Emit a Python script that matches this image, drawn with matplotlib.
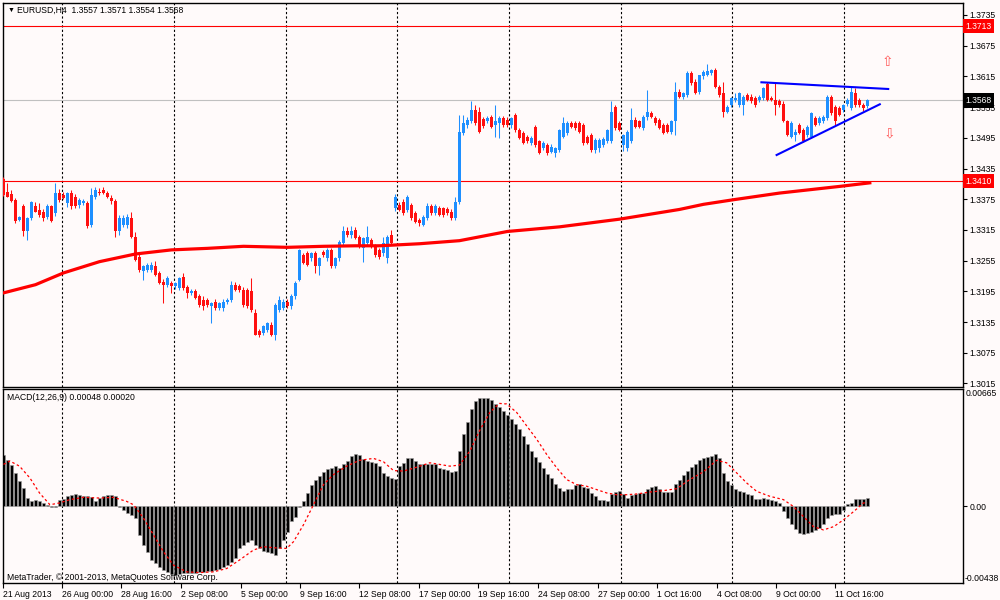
import matplotlib
matplotlib.use('Agg')
import matplotlib.pyplot as plt
import numpy as np

plt.rcParams['font.family'] = ['Liberation Sans', 'DejaVu Sans']

# ---- EURUSD H4 candles (bar index 0 = 21 Aug 2013) ----
opens = [
    1.3414, 1.3390, 1.3385, 1.3374, 1.3335, 1.3361, 1.3312, 1.3338, 1.3361, 1.3354,
    1.3351, 1.3341, 1.3361, 1.3348, 1.3387, 1.3384, 1.3367, 1.3387, 1.3380, 1.3364,
    1.3367, 1.3367, 1.3325, 1.3380, 1.3390, 1.3393, 1.3387, 1.3377, 1.3371, 1.3312,
    1.3325, 1.3325, 1.3338, 1.3302, 1.3263, 1.3234, 1.3237, 1.3236, 1.3244, 1.3230,
    1.3214, 1.3208, 1.3211, 1.3205, 1.3201, 1.3224, 1.3204, 1.3192, 1.3195, 1.3185,
    1.3178, 1.3178, 1.3166, 1.3175, 1.3162, 1.3162, 1.3175, 1.3178, 1.3208, 1.3205,
    1.3198, 1.3198, 1.3195, 1.3153, 1.3117, 1.3114, 1.3120, 1.3130, 1.3110, 1.3159,
    1.3162, 1.3175, 1.3166, 1.3185, 1.3218, 1.3266, 1.3270, 1.3260, 1.3270, 1.3244,
    1.3271, 1.3260, 1.3276, 1.3244, 1.3260, 1.3289, 1.3312, 1.3305, 1.3315, 1.3302,
    1.3279, 1.3289, 1.3296, 1.3283, 1.3276, 1.3269, 1.3260, 1.3305, 1.3357, 1.3364,
    1.3370, 1.3354, 1.3364, 1.3348, 1.3334, 1.3325, 1.3338, 1.3361, 1.3348, 1.3357,
    1.3357, 1.3356, 1.3351, 1.3338, 1.3370, 1.3504, 1.3520, 1.3527, 1.3549, 1.3546,
    1.3531, 1.3527, 1.3536, 1.3520, 1.3523, 1.3533, 1.3530, 1.3520, 1.3540, 1.3510,
    1.3504, 1.3497, 1.3484, 1.3517, 1.3488, 1.3475, 1.3481, 1.3468, 1.3465, 1.3471,
    1.3497, 1.3504, 1.3523, 1.3523, 1.3523, 1.3520, 1.3497, 1.3501, 1.3471, 1.3475,
    1.3481, 1.3488, 1.3488, 1.3556, 1.3523, 1.3481, 1.3475, 1.3488, 1.3530, 1.3527,
    1.3514, 1.3536, 1.3543, 1.3533, 1.3530, 1.3520, 1.3520, 1.3507, 1.3527, 1.3585,
    1.3575, 1.3579, 1.3621, 1.3605, 1.3585, 1.3615, 1.3618, 1.3622, 1.3627, 1.3595,
    1.3582, 1.3546, 1.3559, 1.3569, 1.3559, 1.3559, 1.3578, 1.3575, 1.3572, 1.3569,
    1.3572, 1.3601, 1.3572, 1.3569, 1.3566, 1.3562, 1.3527, 1.3497, 1.3501, 1.3520,
    1.3510, 1.3501, 1.3497, 1.3533, 1.3523, 1.3527, 1.3533, 1.3575, 1.3556, 1.3553,
    1.3549, 1.3562, 1.3553, 1.3582, 1.3569, 1.3559, 1.3557]
highs = [
    1.3419, 1.3406, 1.3393, 1.3377, 1.3343, 1.3365, 1.3340, 1.3372, 1.3370, 1.3367,
    1.3356, 1.3365, 1.3364, 1.3406, 1.3394, 1.3390, 1.3390, 1.3393, 1.3385, 1.3378,
    1.3376, 1.3372, 1.3397, 1.3398, 1.3396, 1.3398, 1.3392, 1.3383, 1.3376, 1.3345,
    1.3345, 1.3347, 1.3350, 1.3310, 1.3268, 1.3247, 1.3250, 1.3252, 1.3255, 1.3235,
    1.3219, 1.3225, 1.3216, 1.3214, 1.3224, 1.3230, 1.3208, 1.3200, 1.3200, 1.3190,
    1.3185, 1.3182, 1.3175, 1.3180, 1.3174, 1.3180, 1.3182, 1.3215, 1.3213, 1.3210,
    1.3204, 1.3202, 1.3221, 1.3160, 1.3122, 1.3130, 1.3136, 1.3136, 1.3172, 1.3185,
    1.3180, 1.3180, 1.3190, 1.3215, 1.3278, 1.3270, 1.3273, 1.3272, 1.3274, 1.3262,
    1.3276, 1.3280, 1.3280, 1.3262, 1.3296, 1.3323, 1.3320, 1.3322, 1.3320, 1.3306,
    1.3302, 1.3322, 1.3300, 1.3287, 1.3280, 1.3302, 1.3306, 1.3315, 1.3385, 1.3370,
    1.3375, 1.3384, 1.3368, 1.3352, 1.3338, 1.3345, 1.3367, 1.3365, 1.3365, 1.3362,
    1.3360, 1.3360, 1.3355, 1.3380, 1.3540, 1.3540, 1.3535, 1.3566, 1.3559, 1.3556,
    1.3536, 1.3538, 1.3540, 1.3560, 1.3538, 1.3538, 1.3535, 1.3536, 1.3543, 1.3515,
    1.3508, 1.3500, 1.3498, 1.3520, 1.3491, 1.3488, 1.3484, 1.3482, 1.3478, 1.3512,
    1.3536, 1.3527, 1.3527, 1.3527, 1.3527, 1.3524, 1.3500, 1.3505, 1.3495, 1.3494,
    1.3496, 1.3512, 1.3566, 1.3560, 1.3527, 1.3503, 1.3510, 1.3553, 1.3535, 1.3530,
    1.3540, 1.3588, 1.3548, 1.3537, 1.3534, 1.3524, 1.3524, 1.3530, 1.3605, 1.3590,
    1.3585, 1.3625, 1.3625, 1.3610, 1.3618, 1.3628, 1.3640, 1.3630, 1.3631, 1.3598,
    1.3605, 1.3560, 1.3575, 1.3582, 1.3585, 1.3578, 1.3582, 1.3580, 1.3576, 1.3578,
    1.3594, 1.3605, 1.3577, 1.3602, 1.3570, 1.3566, 1.3530, 1.3527, 1.3512, 1.3524,
    1.3514, 1.3520, 1.3546, 1.3537, 1.3537, 1.3540, 1.3579, 1.3579, 1.3560, 1.3557,
    1.3562, 1.3572, 1.3595, 1.3592, 1.3573, 1.3563, 1.3571]
lows = [
    1.3382, 1.3379, 1.3369, 1.3328, 1.3332, 1.3304, 1.3296, 1.3335, 1.3350, 1.3340,
    1.3332, 1.3336, 1.3330, 1.3343, 1.3370, 1.3376, 1.3360, 1.3355, 1.3358, 1.3358,
    1.3363, 1.3319, 1.3320, 1.3376, 1.3384, 1.3385, 1.3378, 1.3366, 1.3302, 1.3306,
    1.3320, 1.3318, 1.3300, 1.3254, 1.3233, 1.3218, 1.3232, 1.3232, 1.3225, 1.3209,
    1.3172, 1.3204, 1.3192, 1.3200, 1.3198, 1.3197, 1.3182, 1.3188, 1.3180, 1.3165,
    1.3159, 1.3164, 1.3134, 1.3158, 1.3158, 1.3156, 1.3170, 1.3175, 1.3195, 1.3193,
    1.3165, 1.3162, 1.3155, 1.3110, 1.3105, 1.3110, 1.3115, 1.3108, 1.3100, 1.3155,
    1.3158, 1.3162, 1.3160, 1.3180, 1.3215, 1.3248, 1.3245, 1.3255, 1.3230, 1.3227,
    1.3262, 1.3255, 1.3240, 1.3240, 1.3255, 1.3285, 1.3302, 1.3300, 1.3297, 1.3280,
    1.3253, 1.3285, 1.3280, 1.3262, 1.3258, 1.3265, 1.3250, 1.3286, 1.3352, 1.3352,
    1.3345, 1.3350, 1.3335, 1.3328, 1.3323, 1.3322, 1.3335, 1.3345, 1.3344, 1.3342,
    1.3340, 1.3345, 1.3335, 1.3335, 1.3365, 1.3500, 1.3515, 1.3523, 1.3520, 1.3505,
    1.3515, 1.3524, 1.3514, 1.3497, 1.3494, 1.3517, 1.3517, 1.3515, 1.3507, 1.3492,
    1.3482, 1.3485, 1.3480, 1.3478, 1.3463, 1.3472, 1.3462, 1.3465, 1.3458, 1.3468,
    1.3494, 1.3500, 1.3514, 1.3510, 1.3505, 1.3480, 1.3482, 1.3468, 1.3466, 1.3468,
    1.3478, 1.3485, 1.3485, 1.3510, 1.3508, 1.3470, 1.3470, 1.3485, 1.3515, 1.3515,
    1.3510, 1.3530, 1.3533, 1.3520, 1.3512, 1.3502, 1.3505, 1.3503, 1.3501, 1.3573,
    1.3570, 1.3575, 1.3598, 1.3580, 1.3580, 1.3610, 1.3615, 1.3617, 1.3592, 1.3575,
    1.3536, 1.3543, 1.3555, 1.3565, 1.3555, 1.3540, 1.3566, 1.3563, 1.3556, 1.3565,
    1.3568, 1.3566, 1.3566, 1.3540, 1.3555, 1.3525, 1.3498, 1.3494, 1.3488, 1.3502,
    1.3486, 1.3497, 1.3494, 1.3518, 1.3520, 1.3524, 1.3530, 1.3540, 1.3520, 1.3538,
    1.3545, 1.3557, 1.3549, 1.3556, 1.3555, 1.3548, 1.3554]
closes = [
    1.3384, 1.3380, 1.3371, 1.3332, 1.3341, 1.3312, 1.3338, 1.3370, 1.3351, 1.3345,
    1.3338, 1.3361, 1.3332, 1.3387, 1.3374, 1.3377, 1.3387, 1.3361, 1.3361, 1.3374,
    1.3371, 1.3322, 1.3384, 1.3393, 1.3387, 1.3387, 1.3380, 1.3371, 1.3312, 1.3338,
    1.3338, 1.3341, 1.3302, 1.3257, 1.3237, 1.3244, 1.3247, 1.3247, 1.3227, 1.3211,
    1.3208, 1.3221, 1.3205, 1.3211, 1.3221, 1.3201, 1.3192, 1.3195, 1.3182, 1.3169,
    1.3166, 1.3169, 1.3172, 1.3162, 1.3172, 1.3175, 1.3178, 1.3208, 1.3198, 1.3198,
    1.3169, 1.3166, 1.3159, 1.3110, 1.3110, 1.3127, 1.3133, 1.3110, 1.3169, 1.3179,
    1.3175, 1.3166, 1.3185, 1.3211, 1.3276, 1.3250, 1.3247, 1.3270, 1.3244, 1.3260,
    1.3266, 1.3276, 1.3244, 1.3260, 1.3292, 1.3312, 1.3305, 1.3312, 1.3299, 1.3283,
    1.3299, 1.3302, 1.3283, 1.3266, 1.3263, 1.3289, 1.3302, 1.3289, 1.3380, 1.3354,
    1.3348, 1.3380, 1.3338, 1.3331, 1.3328, 1.3341, 1.3361, 1.3348, 1.3361, 1.3344,
    1.3344, 1.3348, 1.3338, 1.3370, 1.3507, 1.3523, 1.3530, 1.3549, 1.3523, 1.3507,
    1.3518, 1.3533, 1.3517, 1.3527, 1.3533, 1.3520, 1.3520, 1.3533, 1.3510, 1.3494,
    1.3484, 1.3488, 1.3494, 1.3481, 1.3465, 1.3484, 1.3465, 1.3478, 1.3475, 1.3510,
    1.3523, 1.3523, 1.3517, 1.3514, 1.3507, 1.3484, 1.3484, 1.3471, 1.3491, 1.3491,
    1.3492, 1.3510, 1.3546, 1.3514, 1.3510, 1.3501, 1.3507, 1.3530, 1.3517, 1.3517,
    1.3536, 1.3546, 1.3536, 1.3523, 1.3514, 1.3504, 1.3507, 1.3527, 1.3585, 1.3575,
    1.3582, 1.3621, 1.3602, 1.3582, 1.3618, 1.3624, 1.3626, 1.3627, 1.3595, 1.3579,
    1.3546, 1.3556, 1.3572, 1.3572, 1.3582, 1.3575, 1.3569, 1.3566, 1.3559, 1.3575,
    1.3592, 1.3569, 1.3569, 1.3559, 1.3559, 1.3527, 1.3501, 1.3523, 1.3507, 1.3504,
    1.3488, 1.3517, 1.3543, 1.3520, 1.3533, 1.3536, 1.3575, 1.3543, 1.3527, 1.3540,
    1.3559, 1.3569, 1.3585, 1.3559, 1.3559, 1.3553, 1.3568]

# 200-period moving average, read at a few bars
ma_bars = [0, 8, 15, 24, 33, 42, 51, 60, 71, 80, 88, 94, 104, 114, 126, 139,
           154, 169, 175, 182.5, 194, 209, 216.6]
ma_vals = [1.3192, 1.3208, 1.3231, 1.3253, 1.3268, 1.3276, 1.3279, 1.3283, 1.3281,
           1.3283, 1.3284, 1.3284, 1.3288, 1.3294, 1.3312, 1.3321, 1.3336, 1.3355,
           1.3365, 1.3374, 1.3387, 1.3400, 1.3407]

# MACD(12,26,9) main (histogram), one per bar
macd_hist = [
    0.00288, 0.00260, 0.00231, 0.00189, 0.00141, 0.00103, 0.00046, 0.00027, 0.00033, 0.00027,
    0.00018, 0.00004, -0.00002, -0.00002, 0.00037, 0.00042, 0.00056, 0.00065, 0.00069, 0.00061,
    0.00056, 0.00056, 0.00050, 0.00027, 0.00046, 0.00056, 0.00061, 0.00065, 0.00056, -0.00002,
    -0.00021, -0.00040, -0.00049, -0.00068, -0.00163, -0.00221, -0.00259, -0.00306, -0.00325, -0.00344,
    -0.00364, -0.00373, -0.00383, -0.00388, -0.00383, -0.00379, -0.00377, -0.00377, -0.00377, -0.00373,
    -0.00373, -0.00369, -0.00369, -0.00364, -0.00358, -0.00344, -0.00335, -0.00316, -0.00297, -0.00240,
    -0.00221, -0.00202, -0.00192, -0.00221, -0.00240, -0.00253, -0.00263, -0.00268, -0.00278, -0.00240,
    -0.00192, -0.00144, -0.00087, -0.00059, -0.00002, 0.00027, 0.00075, 0.00122, 0.00151, 0.00170,
    0.00195, 0.00208, 0.00218, 0.00227, 0.00218, 0.00237, 0.00256, 0.00284, 0.00294, 0.00290,
    0.00265, 0.00256, 0.00252, 0.00246, 0.00227, 0.00189, 0.00170, 0.00160, 0.00155, 0.00227,
    0.00246, 0.00271, 0.00271, 0.00256, 0.00240, 0.00237, 0.00237, 0.00240, 0.00240,
    0.00218, 0.00212, 0.00204, 0.00193, 0.00199, 0.00313, 0.00408, 0.00479, 0.00551, 0.00599,
    0.00612, 0.00612, 0.00612, 0.00602, 0.00580, 0.00561, 0.00538, 0.00519, 0.00494, 0.00469,
    0.00437, 0.00399, 0.00351, 0.00313, 0.00278, 0.00252, 0.00214, 0.00183, 0.00157, 0.00126,
    0.00103, 0.00088, 0.00099, 0.00099, 0.00119, 0.00126, 0.00107, 0.00103, 0.00075, 0.00056,
    0.00033, 0.00033, 0.00027, 0.00069, 0.00080, 0.00084, 0.00069, 0.00046, 0.00065, 0.00069,
    0.00075, 0.00075, 0.00099, 0.00107, 0.00113, 0.00099, 0.00080, 0.00080, 0.00080, 0.00126,
    0.00151, 0.00176, 0.00199, 0.00223, 0.00242, 0.00260, 0.00271, 0.00280, 0.00284, 0.00298,
    0.00271, 0.00189, 0.00145, 0.00122, 0.00099, 0.00088, 0.00080, 0.00069, 0.00061, 0.00040,
    0.00040, 0.00046, 0.00042, 0.00037, 0.00031, 0.00018, -0.00026, -0.00068, -0.00103, -0.00129,
    -0.00152, -0.00156, -0.00150, -0.00144, -0.00137, -0.00122, -0.00103, -0.00068, -0.00053, -0.00045,
    -0.00042, -0.00021, 0.00012, 0.00016, 0.00038, 0.00042, 0.00042, 0.00048]

# MACD signal line, read at a few bars
sig_bars = [0, 1.6, 4, 6.6, 9, 11.6, 14, 16.6, 20, 24, 27.5, 30.8, 32.5, 35, 37.5, 40,
            42.5, 45.8, 49, 52.5, 55.8, 59, 62.5, 65, 67.5, 70.8, 72.5, 75, 77.5, 80,
            82.5, 85.8, 89, 92.5, 95, 97.5, 100, 103.3, 106.6, 109, 111.6, 114, 116.6,
            119, 121.6, 124, 125.8, 128.3, 130.8, 133.3, 135.8, 138.3, 140.8, 143.3,
            145.8, 148.3, 150.8, 153.3, 155.8, 158.3, 161.6, 165, 168.3, 171.6, 175,
            178.3, 180.8, 183.3, 185.8, 188.3, 191.6, 195, 197.5, 200, 202.5, 205,
            207.6, 210, 212.6, 215, 216]
sig_vals = [0.00237, 0.00256, 0.00227, 0.00160, 0.00075, 0.00008, 0.00018, 0.00037,
            0.00050, 0.00046, 0.00050, 0.00027, 0.00008, -0.00068, -0.00163, -0.00259,
            -0.00335, -0.00373, -0.00377, -0.00373, -0.00354, -0.00306, -0.00249,
            -0.00230, -0.00236, -0.00240, -0.00202, -0.00106, 0.00008, 0.00122, 0.00179,
            0.00227, 0.00260, 0.00271, 0.00252, 0.00202, 0.00199, 0.00221, 0.00246,
            0.00237, 0.00227, 0.00233, 0.00313, 0.00427, 0.00532, 0.00583, 0.00580,
            0.00532, 0.00456, 0.00380, 0.00294, 0.00218, 0.00151, 0.00122, 0.00113,
            0.00094, 0.00075, 0.00065, 0.00065, 0.00069, 0.00080, 0.00088, 0.00099,
            0.00151, 0.00195, 0.00260, 0.00246, 0.00189, 0.00132, 0.00084, 0.00056,
            0.00037, -0.00002, -0.00059, -0.00116, -0.00135, -0.00116, -0.00078,
            -0.00030, 0.00018, 0.00020]

# chart objects
level_lines = [1.3713, 1.3410]
bid_price = 1.3568
upper_tl_x = [189.5, 221.2]
upper_tl_y = [1.36035, 1.35904]
lower_tl_x = [193.3, 219.1]
lower_tl_y = [1.34614, 1.35605]
arrow_up_xy = (221.1, 1.3643)
arrow_dn_xy = (221.6, 1.3504)

price_ticks = [1.3735, 1.3675, 1.3615, 1.3555, 1.3495, 1.3435, 1.3375, 1.3315,
               1.3255, 1.3195, 1.3135, 1.3075, 1.3015]
time_pos = [-0.2, 14.6, 29.5, 44.4, 59.3, 74.1, 89, 103.8, 118.7, 133.7, 148.6,
            163.5, 178.3, 193.1, 207.9]
time_labels = ['21 Aug 2013', '26 Aug 00:00', '28 Aug 16:00', '2 Sep 08:00',
               '5 Sep 00:00', '9 Sep 16:00', '12 Sep 08:00', '17 Sep 00:00',
               '19 Sep 16:00', '24 Sep 08:00', '27 Sep 00:00', '1 Oct 16:00',
               '4 Oct 08:00', '9 Oct 00:00', '11 Oct 16:00']
grid_pos = [14.6, 42.6, 70.6, 98.4, 126.4, 154.4, 182.1, 210.1]

BG = '#fffafa'
BULL = '#1e8fff'
BEAR = '#ff1010'
FS = 6.2

fig = plt.figure(figsize=(10, 6), dpi=100, facecolor=BG)
ax = fig.add_axes([0.0027, 0.3545, 0.9603, 0.641], facecolor=BG)
axm = fig.add_axes([0.0027, 0.0278, 0.9603, 0.3239], facecolor=BG)

o, h, l, c = (np.array(v) for v in (opens, highs, lows, closes))
x = np.arange(len(c))
cols = np.where(c >= o, BULL, BEAR)

# price panel
for g in grid_pos:
    ax.axvline(g, color='black', lw=0.8, ls=(0, (2, 2)), zorder=1)
ax.axhline(bid_price, color='#c0c0c0', lw=0.8, zorder=1)
for lv in level_lines:
    ax.axhline(lv, color='red', lw=0.8, zorder=2)
ax.vlines(x, np.minimum(l, np.minimum(o, c)), np.maximum(h, np.maximum(o, c)),
          colors=cols, lw=0.75, zorder=3)
ax.bar(x, np.maximum(np.abs(c - o), 0.00004), bottom=np.minimum(o, c), width=0.6,
       color=cols, linewidth=0, zorder=3)
ax.plot(ma_bars, ma_vals, color='red', lw=2.3, zorder=4)
ax.plot(upper_tl_x, upper_tl_y, color='#0000ff', lw=1.5, zorder=5)
ax.plot(lower_tl_x, lower_tl_y, color='#0000ff', lw=1.5, zorder=5)
ax.text(*arrow_up_xy, '\u21e7', color='#ff5a5a', fontsize=10, ha='center', va='center',
        family='DejaVu Sans')
ax.text(*arrow_dn_xy, '\u21e9', color='#ff5a5a', fontsize=10, ha='center', va='center',
        family='DejaVu Sans')

ax.set_xlim(-0.2, 239.9)
ax.set_ylim(1.30075, 1.3759)
ax.set_xticks([])
ax.yaxis.tick_right()
ax.set_yticks(price_ticks)
ax.set_yticklabels([f'{p:.4f}' for p in price_ticks])
ax.tick_params(axis='y', length=3, width=0.8, pad=1.5, labelsize=FS)

ytr = ax.get_yaxis_transform()
for lv in level_lines:
    ax.text(1.0025, lv, f'{lv:.4f}', transform=ytr, color='white', fontsize=FS,
            va='center', ha='left', clip_on=False,
            bbox=dict(boxstyle='square,pad=0.3', fc='#ff0000', ec='none'))
ax.text(1.0025, bid_price, f'{bid_price:.4f}', transform=ytr, color='white', fontsize=FS,
        va='center', ha='left', clip_on=False,
        bbox=dict(boxstyle='square,pad=0.3', fc='black', ec='none'))

# MACD panel
for g in grid_pos:
    axm.axvline(g, color='black', lw=0.8, ls=(0, (2, 2)), zorder=1)
axm.bar(x, macd_hist, width=0.72, color='black', edgecolor='#9a9a9a', linewidth=0.4,
        zorder=2)
axm.plot(sig_bars, sig_vals, color='red', lw=0.9, ls=(0, (2, 2)), zorder=3)
axm.set_xlim(-0.2, 239.9)
axm.set_ylim(-0.00438, 0.00665)
axm.yaxis.tick_right()
axm.set_yticks([0.0])
axm.set_yticklabels(['0.00'])
axm.tick_params(axis='y', length=3, width=0.8, pad=1.5, labelsize=FS)
mtr = axm.get_yaxis_transform()
axm.text(1.003, 0.00665, '0.00665', transform=mtr, fontsize=FS, va='top', ha='left')
axm.text(1.002, -0.00438, '-0.00438', transform=mtr, fontsize=FS, va='bottom', ha='left')
axm.set_xticks(time_pos)
axm.set_xticklabels(time_labels, ha='left')
axm.tick_params(axis='x', length=3.5, width=0.8, pad=1.5, labelsize=FS)

for a in (ax, axm):
    for s in a.spines.values():
        s.set_color('black')
        s.set_linewidth(1.0)

fig.text(0.008, 1 - 10 / 600, '\u25bc', fontsize=5, va='center', ha='left')
fig.text(0.017, 1 - 10 / 600, 'EURUSD,H4  1.3557 1.3571 1.3554 1.3568', fontsize=FS,
         va='center', ha='left')
fig.text(0.007, 1 - 398 / 600, 'MACD(12,26,9) 0.00048 0.00020', fontsize=FS,
         va='center', ha='left')
fig.text(0.007, 1 - 577 / 600, 'MetaTrader, \u00a9 2001-2013, MetaQuotes Software Corp.',
         fontsize=FS, va='center', ha='left')

fig.savefig('out.png', dpi=100, facecolor=BG)
